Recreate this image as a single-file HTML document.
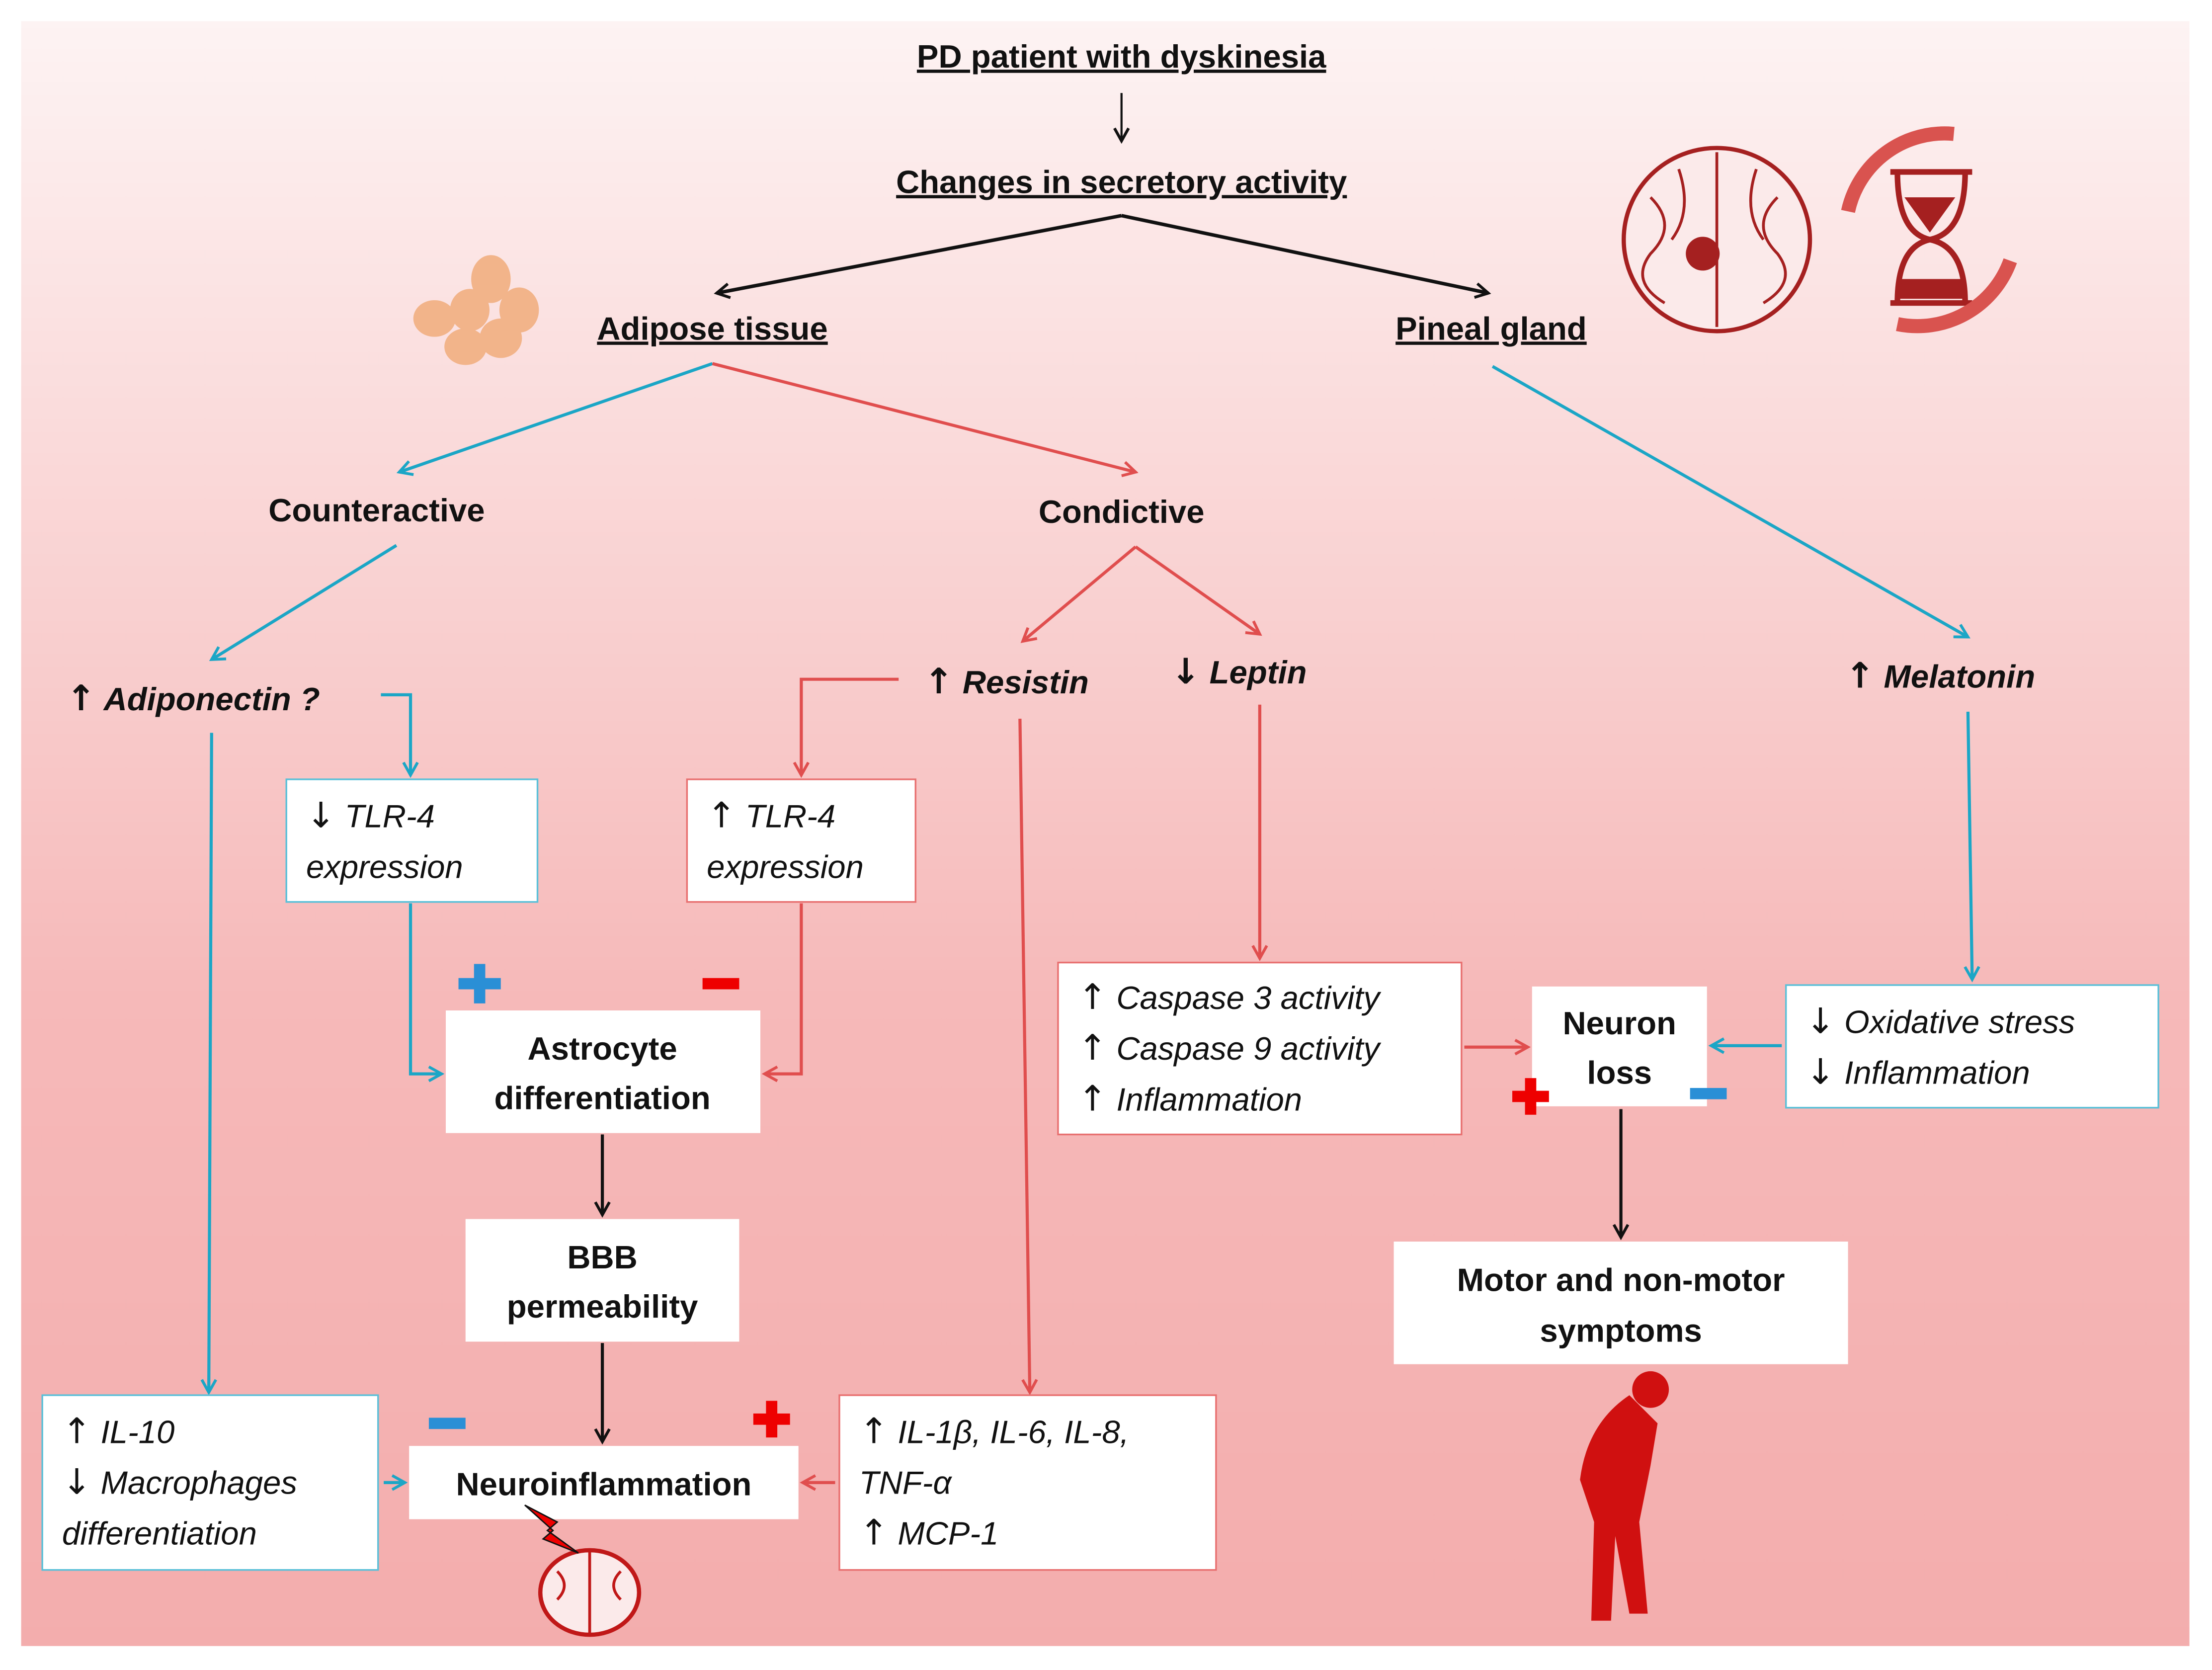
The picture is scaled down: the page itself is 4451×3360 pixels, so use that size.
<!DOCTYPE html>
<html><head><meta charset="utf-8"><style>
html,body{margin:0;padding:0;background:#fff;}
svg{display:block;}
text{font-family:"Liberation Sans",sans-serif;}
.h{font-weight:bold;font-size:23px;fill:#111;}
.t{font-style:italic;font-size:23px;fill:#111;}
.bi{font-style:italic;font-weight:bold;font-size:23px;fill:#111;}
.a{font-family:"DejaVu Sans",sans-serif;font-style:normal;font-weight:normal;font-size:25px;}
.ab{font-family:"DejaVu Sans",sans-serif;font-style:normal;font-weight:bold;font-size:25px;}
</style></head><body>
<svg width="4451" height="3360" viewBox="0 0 1568 1185" preserveAspectRatio="none" xmlns="http://www.w3.org/2000/svg">
<defs>
<linearGradient id="bg" x1="0" y1="0" x2="0" y2="1">
<stop offset="0" stop-color="#fdf3f3"/><stop offset="0.6" stop-color="#f6b9b9"/><stop offset="1" stop-color="#f3adad"/>
</linearGradient>
<marker id="ak" markerWidth="12" markerHeight="12" refX="10" refY="6" orient="auto" markerUnits="userSpaceOnUse"><path d="M1,1 L10,6 L1,11" fill="none" stroke="#111" stroke-width="2"/></marker>
<marker id="ab" markerWidth="12" markerHeight="12" refX="10" refY="6" orient="auto" markerUnits="userSpaceOnUse"><path d="M1,1 L10,6 L1,11" fill="none" stroke="#1ba6c6" stroke-width="2"/></marker>
<marker id="ar" markerWidth="12" markerHeight="12" refX="10" refY="6" orient="auto" markerUnits="userSpaceOnUse"><path d="M1,1 L10,6 L1,11" fill="none" stroke="#e04e4e" stroke-width="2"/></marker>
</defs>
<rect width="1568" height="1185" fill="#fff"/>
<rect x="15" y="15" width="1537" height="1153" fill="url(#bg)"/>

<g text-anchor="middle">
<text x="795" y="48" class="h" text-decoration="underline">PD patient with dyskinesia</text>
<text x="795" y="137" class="h" text-decoration="underline">Changes in secretory activity</text>
<text x="505" y="241" class="h" text-decoration="underline">Adipose tissue</text>
<text x="1057" y="241" class="h" text-decoration="underline">Pineal gland</text>
<text x="267" y="370" class="h">Counteractive</text>
<text x="795" y="371" class="h">Condictive</text>
</g>
<line x1="795" y1="66" x2="795" y2="100" stroke="#111" stroke-width="1.5" marker-end="url(#ak)"/>
<line x1="795" y1="153" x2="508" y2="208" stroke="#111" stroke-width="2.5" marker-end="url(#ak)"/>
<line x1="795" y1="153" x2="1055" y2="208" stroke="#111" stroke-width="2.5" marker-end="url(#ak)"/>

<g fill="none" stroke-width="2.2">
<line x1="505" y1="258" x2="283" y2="335" stroke="#1ba6c6" marker-end="url(#ab)"/>
<line x1="505" y1="258" x2="805" y2="335" stroke="#e04e4e" marker-end="url(#ar)"/>
<line x1="281" y1="387" x2="150" y2="468" stroke="#1ba6c6" marker-end="url(#ab)"/>
<line x1="805" y1="388" x2="725" y2="455" stroke="#e04e4e" marker-end="url(#ar)"/>
<line x1="805" y1="388" x2="893" y2="450" stroke="#e04e4e" marker-end="url(#ar)"/>
<line x1="1058" y1="260" x2="1395" y2="452" stroke="#1ba6c6" marker-end="url(#ab)"/>
<polyline points="270,493 291,493 291,550" stroke="#1ba6c6" marker-end="url(#ab)"/>
<line x1="150" y1="520" x2="148" y2="988" stroke="#1ba6c6" marker-end="url(#ab)"/>
<polyline points="637,482 568,482 568,550" stroke="#e04e4e" marker-end="url(#ar)"/>
<polyline points="291,641 291,762 313,762" stroke="#1ba6c6" marker-end="url(#ab)"/>
<polyline points="568,641 568,762 542,762" stroke="#e04e4e" marker-end="url(#ar)"/>
<line x1="272" y1="1052" x2="287" y2="1052" stroke="#1ba6c6" marker-end="url(#ab)"/>
<line x1="592" y1="1052" x2="569" y2="1052" stroke="#e04e4e" marker-end="url(#ar)"/>
<line x1="723" y1="510" x2="730" y2="988" stroke="#e04e4e" marker-end="url(#ar)"/>
<line x1="893" y1="500" x2="893" y2="680" stroke="#e04e4e" marker-end="url(#ar)"/>
<line x1="1038" y1="743" x2="1083" y2="743" stroke="#e04e4e" marker-end="url(#ar)"/>
<line x1="1263" y1="742" x2="1213" y2="742" stroke="#1ba6c6" marker-end="url(#ab)"/>
<line x1="1395" y1="505" x2="1398" y2="695" stroke="#1ba6c6" marker-end="url(#ab)"/>
<line x1="427" y1="805" x2="427" y2="862" stroke="#111" marker-end="url(#ak)"/>
<line x1="427" y1="953" x2="427" y2="1023" stroke="#111" marker-end="url(#ak)"/>
<line x1="1149" y1="787" x2="1149" y2="878" stroke="#111" marker-end="url(#ak)"/>
</g>

<text x="47" y="504" class="bi"><tspan class="ab">↑</tspan> Adiponectin ?</text>
<text x="655" y="492" class="bi"><tspan class="ab">↑</tspan> Resistin</text>
<text x="830" y="485" class="bi"><tspan class="ab">↓</tspan> Leptin</text>
<text x="1308" y="488" class="bi"><tspan class="ab">↑</tspan> Melatonin</text>

<rect x="203" y="553" width="178" height="87" fill="#fff" stroke="#5bc0d8" stroke-width="1.2"/>
<text x="217" y="587" class="t"><tspan class="a">↓</tspan> TLR-4</text><text x="217" y="623" class="t">expression</text>
<rect x="487" y="553" width="162" height="87" fill="#fff" stroke="#e87070" stroke-width="1.2"/>
<text x="501" y="587" class="t"><tspan class="a">↑</tspan> TLR-4</text><text x="501" y="623" class="t">expression</text>

<rect x="316" y="717" width="223" height="87" fill="#fff"/>
<text x="427" y="752" class="h" text-anchor="middle">Astrocyte</text>
<text x="427" y="787" class="h" text-anchor="middle">differentiation</text>
<rect x="330" y="865" width="194" height="87" fill="#fff"/>
<text x="427" y="900" class="h" text-anchor="middle">BBB</text>
<text x="427" y="935" class="h" text-anchor="middle">permeability</text>
<rect x="290" y="1026" width="276" height="52" fill="#fff"/>
<text x="428" y="1061" class="h" text-anchor="middle">Neuroinflammation</text>

<rect x="30" y="990" width="238" height="124" fill="#fff" stroke="#5bc0d8" stroke-width="1.2"/>
<text x="44" y="1024" class="t"><tspan class="a">↑</tspan> IL-10</text><text x="44" y="1060" class="t"><tspan class="a">↓</tspan> Macrophages</text><text x="44" y="1096" class="t">differentiation</text>
<rect x="595" y="990" width="267" height="124" fill="#fff" stroke="#e87070" stroke-width="1.2"/>
<text x="609" y="1024" class="t"><tspan class="a">↑</tspan> IL-1β, IL-6, IL-8,</text><text x="609" y="1060" class="t">TNF-α</text><text x="609" y="1096" class="t"><tspan class="a">↑</tspan> MCP-1</text>

<rect x="750" y="683" width="286" height="122" fill="#fff" stroke="#e87070" stroke-width="1.2"/>
<text x="764" y="716" class="t"><tspan class="a">↑</tspan> Caspase 3 activity</text><text x="764" y="752" class="t"><tspan class="a">↑</tspan> Caspase 9 activity</text><text x="764" y="788" class="t"><tspan class="a">↑</tspan> Inflammation</text>
<rect x="1086" y="700" width="124" height="85" fill="#fff"/>
<text x="1148" y="734" class="h" text-anchor="middle">Neuron</text>
<text x="1148" y="769" class="h" text-anchor="middle">loss</text>
<rect x="1266" y="699" width="264" height="87" fill="#fff" stroke="#5bc0d8" stroke-width="1.2"/>
<text x="1280" y="733" class="t"><tspan class="a">↓</tspan> Oxidative stress</text><text x="1280" y="769" class="t"><tspan class="a">↓</tspan> Inflammation</text>
<rect x="988" y="881" width="322" height="87" fill="#fff"/>
<text x="1149" y="916" class="h" text-anchor="middle">Motor and non-motor</text>
<text x="1149" y="952" class="h" text-anchor="middle">symptoms</text>

<g fill="#2a8fd6"><rect x="325" y="694" width="30" height="8"/><rect x="336" y="684" width="8" height="28"/>
<rect x="304" y="1006" width="26" height="8"/><rect x="1198" y="772" width="26" height="8"/></g>
<g fill="#e00"><rect x="498" y="694" width="26" height="8"/>
<rect x="534" y="1003" width="26" height="8"/><rect x="543" y="994" width="8" height="26"/>
<rect x="1072" y="774" width="26" height="8"/><rect x="1081" y="765" width="8" height="26"/></g>

<g fill="#f2b48a">
<ellipse cx="348" cy="198" rx="14" ry="17"/><ellipse cx="368" cy="220" rx="14" ry="16"/>
<ellipse cx="333" cy="220" rx="14" ry="15"/><ellipse cx="308" cy="226" rx="15" ry="13"/>
<ellipse cx="355" cy="240" rx="15" ry="14"/><ellipse cx="330" cy="246" rx="15" ry="13"/>
</g>
<ellipse cx="1217" cy="170" rx="66" ry="65" fill="#fbeaea" stroke="#a52020" stroke-width="3"/>
<path d="M1217,108 V232 M1170,140 q20,20 0,40 q-15,20 10,35 M1260,140 q-20,20 0,40 q15,20 -10,35 M1190,120 q10,30 -5,50 M1245,120 q-10,30 5,50" fill="none" stroke="#a52020" stroke-width="2"/>
<circle cx="1207" cy="180" r="12" fill="#a52020"/>
<path d="M1340,122 H1398 M1340,215 H1398 M1345,122 Q1345,165 1368,170 Q1345,175 1345,215 M1393,122 Q1393,165 1368,170 Q1393,175 1393,215" fill="none" stroke="#a52020" stroke-width="4"/>
<path d="M1345,198 H1393 V212 H1345Z M1350,140 H1386 L1368,165Z" fill="#a52020"/>
<path d="M1385,95 A70,70 0 0 0 1310,150" fill="none" stroke="#d9534f" stroke-width="10"/>
<path d="M1345,230 A70,70 0 0 0 1425,185" fill="none" stroke="#d9534f" stroke-width="10"/>
<g fill="#d01010">
<circle cx="1170" cy="986" r="13"/>
<path d="M1155,990 Q1125,1010 1120,1050 L1130,1080 L1128,1150 L1142,1150 L1145,1090 L1155,1145 L1168,1145 L1162,1080 L1170,1040 L1175,1010 Z"/>
</g>
<ellipse cx="418" cy="1130" rx="35" ry="30" fill="#fbeaea" stroke="#c01818" stroke-width="3"/>
<path d="M418,1100 V1160 M395,1115 q10,10 0,20 M440,1115 q-10,10 0,20" fill="none" stroke="#c01818" stroke-width="2"/>
<path d="M372,1068 L395,1080 L388,1086 L410,1102 L385,1092 L392,1086 Z" fill="#e00" stroke="#111" stroke-width="1"/>
</svg>
</body></html>
